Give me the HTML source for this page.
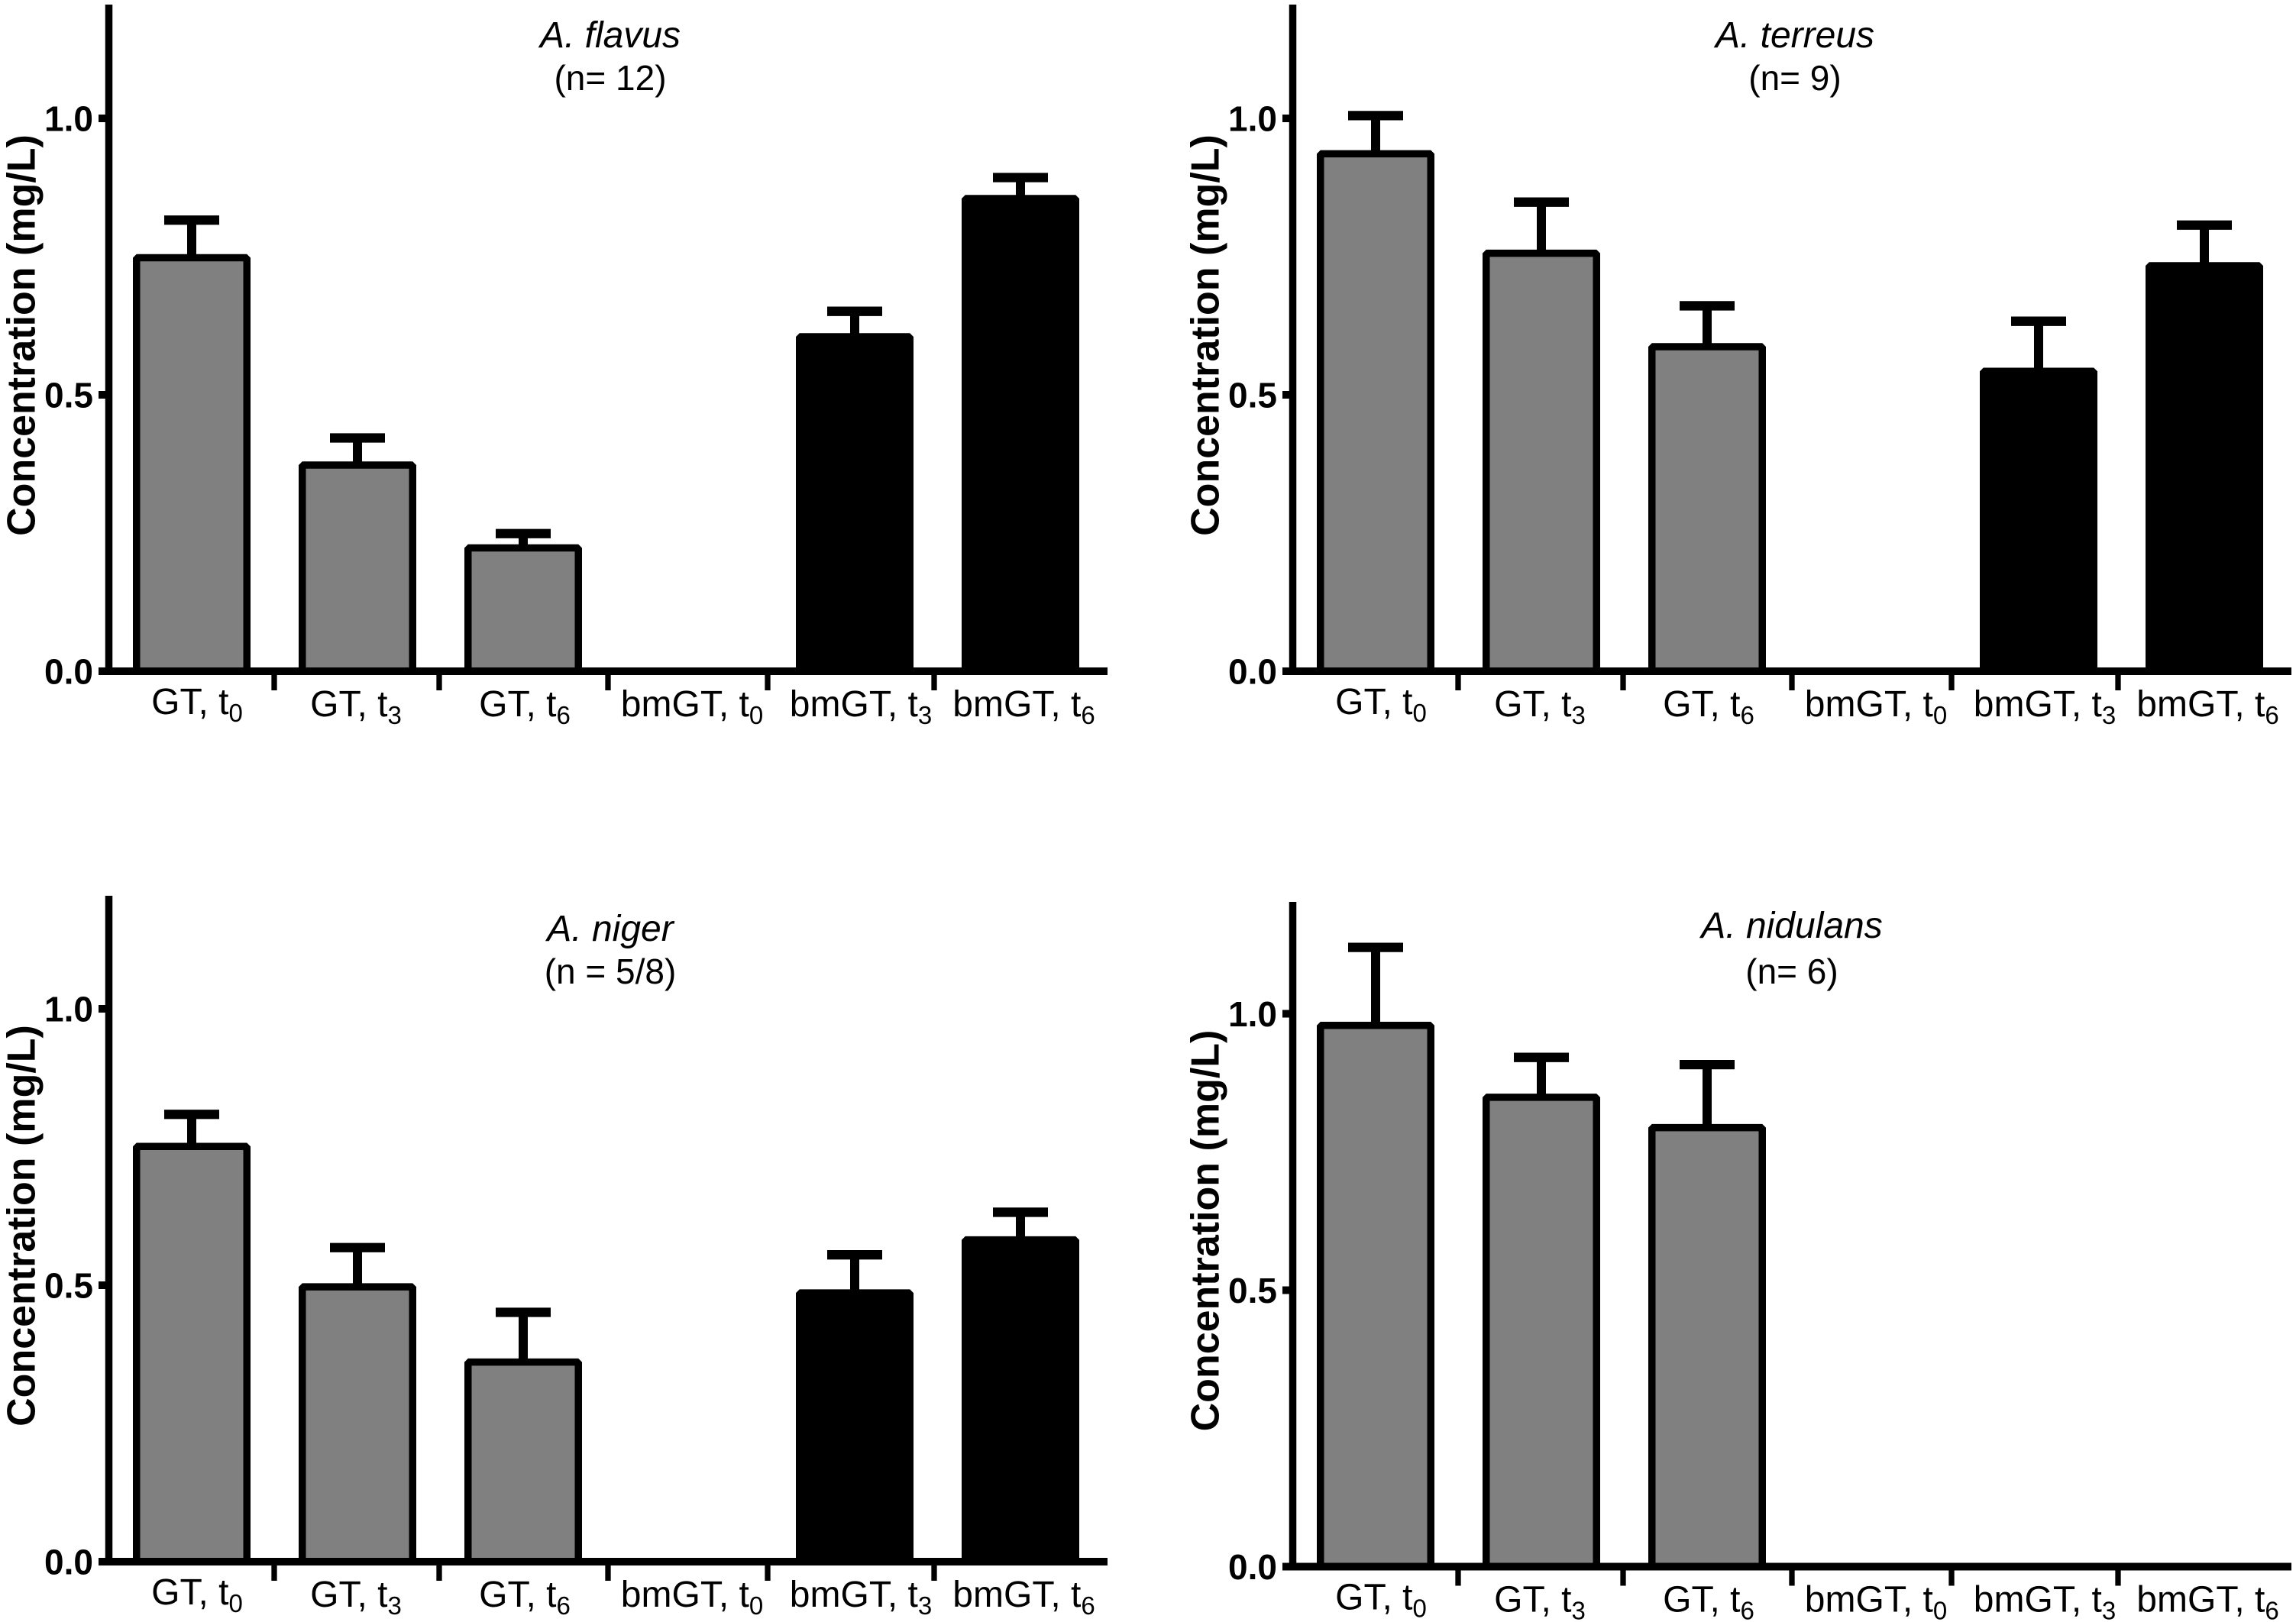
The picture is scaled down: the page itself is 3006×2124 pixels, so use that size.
<!DOCTYPE html>
<html lang="en">
<head>
<meta charset="utf-8">
<title>Concentration by Aspergillus species</title>
<style>
html,body{margin:0;padding:0;background:#fff;}
svg{display:block;font-family:"Liberation Sans",Arial,sans-serif;}
</style>
</head>
<body>
<svg id="figure" xmlns="http://www.w3.org/2000/svg" width="3006" height="2124" viewBox="0 0 3006 2124"></svg>
<script>
const categories = ["GT", "GT", "GT", "bmGT", "bmGT", "bmGT"];
const timepoints = ["0", "3", "6", "0", "3", "6"];
const yTicks = [0, 0.5, 1];
const yTickLabels = ["0.0", "0.5", "1.0"];
const yAxisTitle = "Concentration (mg/L)";

const flavusMeans = [0.748, 0.373, 0.223, 0, 0.605, 0.855];
const flavusErrors = [0.068, 0.049, 0.026, 0, 0.046, 0.038];
const terreusMeans = [0.936, 0.756, 0.587, 0, 0.5425, 0.7335];
const terreusErrors = [0.069, 0.0925, 0.074, 0, 0.0905, 0.0735];
const nigerMeans = [0.751, 0.497, 0.361, 0, 0.486, 0.582];
const nigerErrors = [0.058, 0.071, 0.090, 0, 0.069, 0.050];
const nidulansMeans = [0.979, 0.849, 0.794, 0, 0, 0];
const nidulansErrors = [0.141, 0.072, 0.114, 0, 0, 0];

const SVG_NS = "http://www.w3.org/2000/svg";
const root = document.getElementById("figure");
const CAT_W = 217, SCALE = 724, BAR_W = 144.5;
const LABEL_SHIFT = [7, -2, 2, 4, 8, 4.5];
const X_TICK_OFFSET = [216.5, 432.5, 653.5, 862.5, 1080.5];

function mk(parent, tag, attrs, text) {
  const el = document.createElementNS(SVG_NS, tag);
  for (const k in attrs) el.setAttribute(k, attrs[k]);
  if (text !== undefined) el.textContent = text;
  parent.appendChild(el);
  return el;
}

function drawPanel(key, title, subtitle, means, errors, axisX, zeroY, topY, titleX, titleY, subY) {
  const xOf = function (i) { return axisX + 108.5 + CAT_W * i; };
  const yOf = function (v) { return zeroY - SCALE * v; };

  const g = mk(root, "g", {});
  
  

  means.forEach(function (value, i) {
    if (errors[i] > 0) {
      const stem = mk(g, "line", { x1: xOf(i), x2: xOf(i), y1: yOf(value), y2: yOf(value + errors[i]), stroke: "#000", "stroke-width": 12 });
      
      
      const cap = mk(g, "line", { x1: xOf(i) - 36, x2: xOf(i) + 36, y1: yOf(value + errors[i]), y2: yOf(value + errors[i]), stroke: "#000", "stroke-width": 12.3 });
      
      
    }
    const bar = mk(g, "rect", {
      x: xOf(i) - BAR_W / 2, y: yOf(value), width: BAR_W, height: zeroY - yOf(value),
      fill: i < 3 ? "#808080" : "#000", stroke: "#000", "stroke-width": 9.5, "stroke-linejoin": "bevel"
    });
    
    
  });

  const yAxis = mk(g, "line", { x1: axisX, x2: axisX, y1: topY, y2: zeroY + 5, stroke: "#000", "stroke-width": 9.5 });
  
  
  const xAxis = mk(g, "line", { x1: axisX - 13.5, x2: axisX + 1307.5, y1: zeroY, y2: zeroY, stroke: "#000", "stroke-width": 10 });
  
  

  yTicks.forEach(function (tick, i) {
    const mark = mk(g, "line", { x1: axisX - 13.5, x2: axisX, y1: yOf(tick), y2: yOf(tick), stroke: "#000", "stroke-width": 10 });
    
    
    const label = mk(g, "text", { x: axisX - 20.5, y: yOf(tick) + 16.5, "text-anchor": "end", "font-size": 46, "font-weight": "bold", fill: "#000" }, yTickLabels[i]);
    
    
  });

  X_TICK_OFFSET.forEach(function (offset) {
    const mark = mk(g, "line", { x1: axisX + offset, x2: axisX + offset, y1: zeroY + 4, y2: zeroY + 25, stroke: "#000", "stroke-width": 7.3 });
    
    
  });

  categories.forEach(function (name, i) {
    const label = mk(g, "text", { x: xOf(i) + LABEL_SHIFT[i], y: zeroY + (i === 0 ? 56 : 59), "text-anchor": "middle", "font-size": 48, fill: "#000" });
    
    
    mk(label, "tspan", {}, name + ", t");
    mk(label, "tspan", { dy: 10, "font-size": 33 }, timepoints[i]);
  });

  const yTitle = mk(g, "text", {
    x: 0, y: 0, "text-anchor": "middle", "font-size": 52, "font-weight": "bold", fill: "#000",
    transform: "translate(" + (axisX - 97) + " " + (zeroY - 440) + ") rotate(-90)"
  }, yAxisTitle);
  
  

  const t1 = mk(g, "text", { x: titleX, y: titleY, "text-anchor": "middle", "font-size": 48, "font-style": "italic", fill: "#000" }, title);
  
  
  const t2 = mk(g, "text", { x: titleX, y: subY, "text-anchor": "middle", "font-size": 46, fill: "#000" }, subtitle);
  
  
}

drawPanel("a-flavus", "A. flavus", "(n= 12)", flavusMeans, flavusErrors, 142.5, 879, 6, 799, 62, 118);
drawPanel("a-terreus", "A. terreus", "(n= 9)", terreusMeans, terreusErrors, 1692.5, 879, 6, 2350, 62, 118);
drawPanel("a-niger", "A. niger", "(n = 5/8)", nigerMeans, nigerErrors, 142.5, 2045, 1173, 799, 1232, 1288);
drawPanel("a-nidulans", "A. nidulans", "(n= 6)", nidulansMeans, nidulansErrors, 1692.5, 2051.5, 1181, 2346, 1228, 1288);
</script>
</body>
</html>
